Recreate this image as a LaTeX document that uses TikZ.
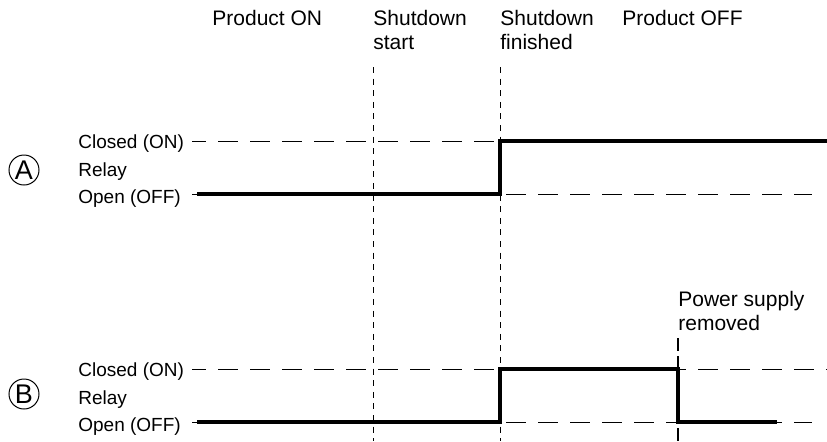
\documentclass[tikz,border=0pt]{standalone}
\usepackage{fontspec}
\setmainfont{Liberation Sans}
\usepackage{tikz}
\usetikzlibrary{positioning}

\begin{document}
\begin{tikzpicture}[x=0.5pt, y=-0.5pt,
  every node/.style={font=\fontsize{9.5}{11.5}\selectfont, inner sep=0pt},
  lvl/.style={anchor=base west},
  head/.style={anchor=north west, align=left, font=\fontsize{10.5}{12}\selectfont},
  marker/.style={draw, circle, minimum size=15pt, line width=0.5pt, font=\fontsize{13.5}{13.5}\selectfont},
  level/.style={line width=0.5pt, dash pattern=on 10pt off 6pt, dash phase=3pt},
  event/.style={line width=0.5pt, dash pattern=on 3pt off 2.8pt},
  cut/.style={line width=1pt, dash pattern=on 6.5pt off 2.5pt},
  trace/.style={line width=2pt}
]
\useasboundingbox (0,0) rectangle (827,441);

% time marks along the top
\node[head] (prodon) at (212,10) {Product ON};
\node[head] (sdstart) at (373,10) {Shutdown\\start};
\node[head] (sdfin) at (500,10) {Shutdown\\finished};
\node[head] (prodoff) at (622,10) {Product OFF};

\coordinate (tstart) at (373,67);
\coordinate (tfin) at (500,67);
\draw[event] (tstart) -- (373,441);
\draw[event] (tfin) -- (500,441);

% relay A
\node[marker] (markA) at (24,170) {A};
\node[lvl] (closedA) at (78,148) {Closed (ON)};
\node[lvl, below=14pt of closedA.base west, anchor=base west] (relayA) {Relay};
\node[lvl, below=13.5pt of relayA.base west, anchor=base west] (openA) {Open (OFF)};
\draw[level] (192,141) -- (827,141);
\draw[level] (192,194) -- (812,194);
\draw[trace] (197,194) -- (500,194) -- (500,141) -- (827,141);

% relay B
\node[marker] (markB) at (24,394) {B};
\node[lvl] (closedB) at (78,376) {Closed (ON)};
\node[lvl, below=14pt of closedB.base west, anchor=base west] (relayB) {Relay};
\node[lvl, below=13.5pt of relayB.base west, anchor=base west] (openB) {Open (OFF)};
\draw[level] (192,369) -- (827,369);
\draw[level] (192,422) -- (812,422);
\draw[trace] (197,422) -- (500,422) -- (500,369) -- (678,369) -- (678,422) -- (777,422);

% power cut
\node[head] (power) at (678,291) {Power supply\\removed};
\draw[cut] (678,338) -- (678,441);
\end{tikzpicture}
\end{document}
